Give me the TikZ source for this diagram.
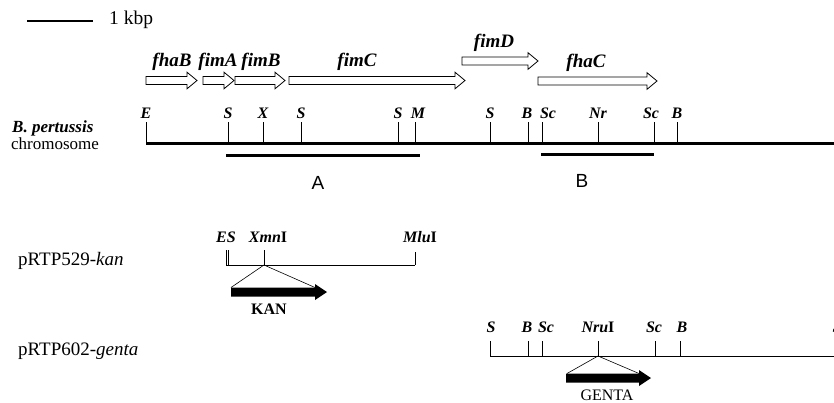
\documentclass[tikz,border=0pt]{standalone}
\usepackage{fontspec}
\setmainfont{Liberation Serif}
\newfontfamily\regionsans{Liberation Sans}

% open gene arrow: start x, tip x, centre y
\newcommand\openarrow[3]{%
  \draw[genebox] (#1,#3-4) -- (#2-10,#3-4) -- (#2-10,#3-8.3) -- (#2,#3)
    -- (#2-10,#3+8.3) -- (#2-10,#3+4) -- (#1,#3+4) -- cycle;}
% filled resistance-cassette arrow: start x, tip x, centre y
\newcommand\solidarrow[3]{%
  \fill (#1,#3-4.5) -- (#2-12,#3-4.5) -- (#2-12,#3-8) -- (#2,#3)
    -- (#2-12,#3+8) -- (#2-12,#3+4.5) -- (#1,#3+4.5) -- cycle;}

\begin{document}
\begin{tikzpicture}[x=1pt,y=-1pt,
  site/.style={font=\fontsize{16}{16}\selectfont\bfseries\itshape, anchor=base, inner sep=0pt},
  gene/.style={font=\fontsize{19}{19}\selectfont\bfseries\itshape, anchor=base, inner sep=0pt},
  leftlabel/.style={font=\fontsize{19}{19}\selectfont, anchor=base west, inner sep=0pt},
  region/.style={font=\fontsize{19}{19}\selectfont\regionsans, anchor=base, inner sep=0pt},
  cassette/.style={font=\fontsize{16}{16}\selectfont, anchor=base, inner sep=0pt},
  tickmark/.style={line width=0.8pt},
  thinline/.style={line width=0.8pt},
  heavyline/.style={line width=3pt},
  genebox/.style={draw, line width=0.8pt, fill=white},
  splay/.style={line width=0.6pt}]
\useasboundingbox (0,0) rectangle (834,402);

% scale bar
\draw[line width=2pt] (27,21) -- (93,21);
\node[anchor=base west, inner sep=0pt, font=\fontsize{19.5}{19.5}\selectfont] (kbp) at (109,24) {1 kbp};

% genes
\openarrow{146}{197}{80.5}
\openarrow{203}{234}{80.5}
\openarrow{235}{285}{80.5}
\openarrow{289}{465}{80.5}
\openarrow{462}{538}{61}
\openarrow{538}{657}{81}
\node[gene] (fhaB) at (172,66) {fhaB};
\node[gene] (fimA) at (218,66) {fimA};
\node[gene] (fimB) at (261,66) {fimB};
\node[gene] (fimC) at (357,66) {fimC};
\node[gene] (fimD) at (494,47) {fimD};
\node[gene] (fhaC) at (586,67) {fhaC};

% chromosome
\node[anchor=base west, inner sep=0pt, font=\fontsize{17}{17}\selectfont\bfseries\itshape] (bp) at (12,132) {B. pertussis};
\node[anchor=base west, inner sep=0pt, font=\fontsize{17}{17}\selectfont] (chr) at (11,149) {chromosome};
\foreach \x/\lab/\lx in {146/E/146, 228/S/228, 263/X/263, 301/S/301, 398/S/398, 415/M/418,
                         490/S/490, 528/B/527, 542/Sc/548, 598/Nr/598, 654/Sc/651, 677/B/677}{
  \draw[tickmark] (\x,122) -- (\x,143);
  \node[site] (c\x) at (\lx,118) {\lab};
}
\draw[heavyline] (146,143) -- (834,143);

% probe regions
\draw[heavyline] (226,155) -- (420,155);
\draw[heavyline] (541,154) -- (654,154);
\node[region] (A) at (318,189) {A};
\node[region] (B) at (582,187) {B};

% pRTP529-kan
\node[leftlabel] (p529) at (18,265) {pRTP529-\textit{kan}};
\draw[thinline] (226,265) -- (415,265);
\draw[tickmark] (226,250) -- (226,265);
\draw[tickmark] (228.5,250) -- (228.5,265);
\draw[tickmark] (264,250) -- (264,265);
\draw[tickmark] (415,252) -- (415,265);
\node[site] (ES) at (226,242) {ES};
\node[site] (Xmn) at (268,242) {Xmn\textup{I}};
\node[site] (Mlu) at (420,242) {Mlu\textup{I}};
\coordinate (xmnsite) at (264,265);
\coordinate (kanL) at (231,287.5);
\coordinate (kanR) at (315,287.5);
\solidarrow{231}{327}{292}
\draw[splay] (kanL) -- (xmnsite) -- (kanR);
\node[cassette, font=\fontsize{16}{16}\selectfont\bfseries] (KAN) at (269,314) {KAN};

% pRTP602-genta
\node[leftlabel] (p602) at (18,355) {pRTP602-\textit{genta}};
\draw[thinline] (490,356) -- (834,356);
\foreach \x/\lab/\lx in {490/S/491, 528/B/527, 542/Sc/546, 598/Nru\textup{I}/598, 655/Sc/654, 680/B/682}{
  \draw[tickmark] (\x,341) -- (\x,356);
  \node[site] (g\x) at (\lx,332) {\lab};
}
\node[site] (gS) at (837,332) {S};
\coordinate (nrusite) at (598,356);
\coordinate (genL) at (567,373.5);
\coordinate (genR) at (639,373.5);
\solidarrow{566}{651}{378}
\draw[splay] (genL) -- (nrusite) -- (genR);
\node[cassette] (GENTA) at (607,400) {GENTA};
\end{tikzpicture}
\end{document}
